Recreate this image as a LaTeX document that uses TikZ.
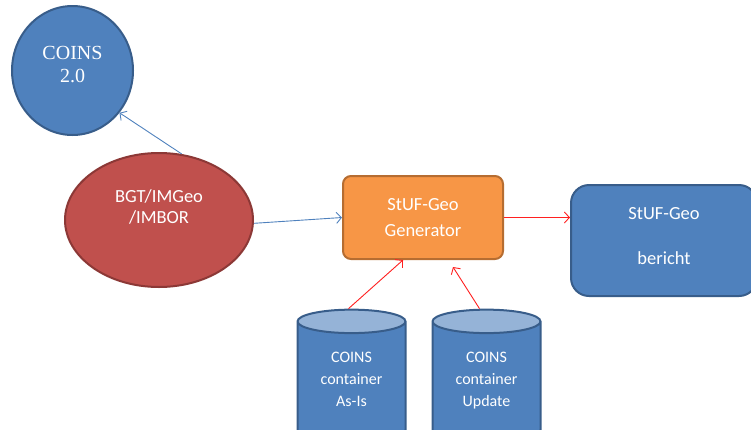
\documentclass[tikz,border=0pt]{standalone}
\usepackage{fontspec}
\setmainfont{Carlito}
\newfontfamily\coinsfont{Liberation Serif}
\usetikzlibrary{shapes.geometric,arrows.meta}
\definecolor{boxblue}{HTML}{4F81BD}
\definecolor{boxblueline}{HTML}{385D8A}
\definecolor{boxred}{HTML}{C0504D}
\definecolor{boxredline}{HTML}{8C3836}
\definecolor{boxorange}{HTML}{F79646}
\definecolor{boxorangeline}{HTML}{B66D31}
\definecolor{cyltop}{HTML}{95B3D7}
\definecolor{arrowred}{HTML}{FF2020}

\begin{document}
\begin{tikzpicture}[x=1pt,y=1pt]
\tikzstyle{every node}+=[inner sep=0pt, text=white, align=center]
\tikzstyle{blueshape}=[fill=boxblue, draw=boxblueline, line width=2pt]
\tikzstyle{bluearrow}=[draw=boxblue, line width=0.9pt, -{Straight Barb[length=5pt,width=11pt]}]
\tikzstyle{redarrow}=[draw=arrowred, line width=0.9pt, -{Straight Barb[length=5pt,width=11pt]}]
\tikzstyle{container}=[cylinder, shape border rotate=90, draw=boxblueline, line width=2pt,
  cylinder uses custom fill, cylinder body fill=boxblue, cylinder end fill=cyltop,
  minimum width=108, minimum height=132, aspect=0.38, text depth=6pt, font=\fontsize{16}{22}\selectfont]
\clip (0,0) rectangle (751,-429);
% schema's
\node [blueshape, ellipse, minimum width=121, minimum height=129, text depth=12pt,
  font=\coinsfont\fontsize{20}{23}\selectfont] (coins) at (72.5,-70.5) {COINS\\2.0};
\node [ellipse, fill=boxred, draw=boxredline, line width=2pt, minimum width=188, minimum height=134,
  text depth=27pt, font=\fontsize{18.5}{21}\selectfont] (bgt) at (159,-220) {BGT/IMGeo\\/IMBOR};
\node [rectangle, rounded corners=8, fill=boxorange, draw=boxorangeline, line width=2pt,
  minimum width=160, minimum height=83, font=\fontsize{18.5}{26}\selectfont] (gen) at (423,-217.5) {StUF-Geo\\Generator};
\node [blueshape, rectangle, rounded corners=18, minimum width=186, minimum height=111,
  text depth=10pt, font=\fontsize{18.5}{22}\selectfont] (rep) at (664,-240.5) {StUF-Geo\\[23pt]bericht};
% containers
\node [container] (asis) at (351.5,-382) {COINS\\container\\As-Is};
\node [container] (upd) at (486.5,-382) {COINS\\container\\Update};
% pijlen
\draw [bluearrow] (bgt.71) -- (coins.-42);
\draw [bluearrow] (bgt.-2) -- (gen.west);
\draw [redarrow] (gen.east) -- (rep.west |- gen.east);
\draw [redarrow] ([xshift=-3pt]asis.north) -- ([xshift=-20pt]gen.south);
\draw [redarrow] ([xshift=-7pt]upd.north) -- ([xshift=30pt,yshift=-7pt]gen.south);
\end{tikzpicture}
\end{document}
